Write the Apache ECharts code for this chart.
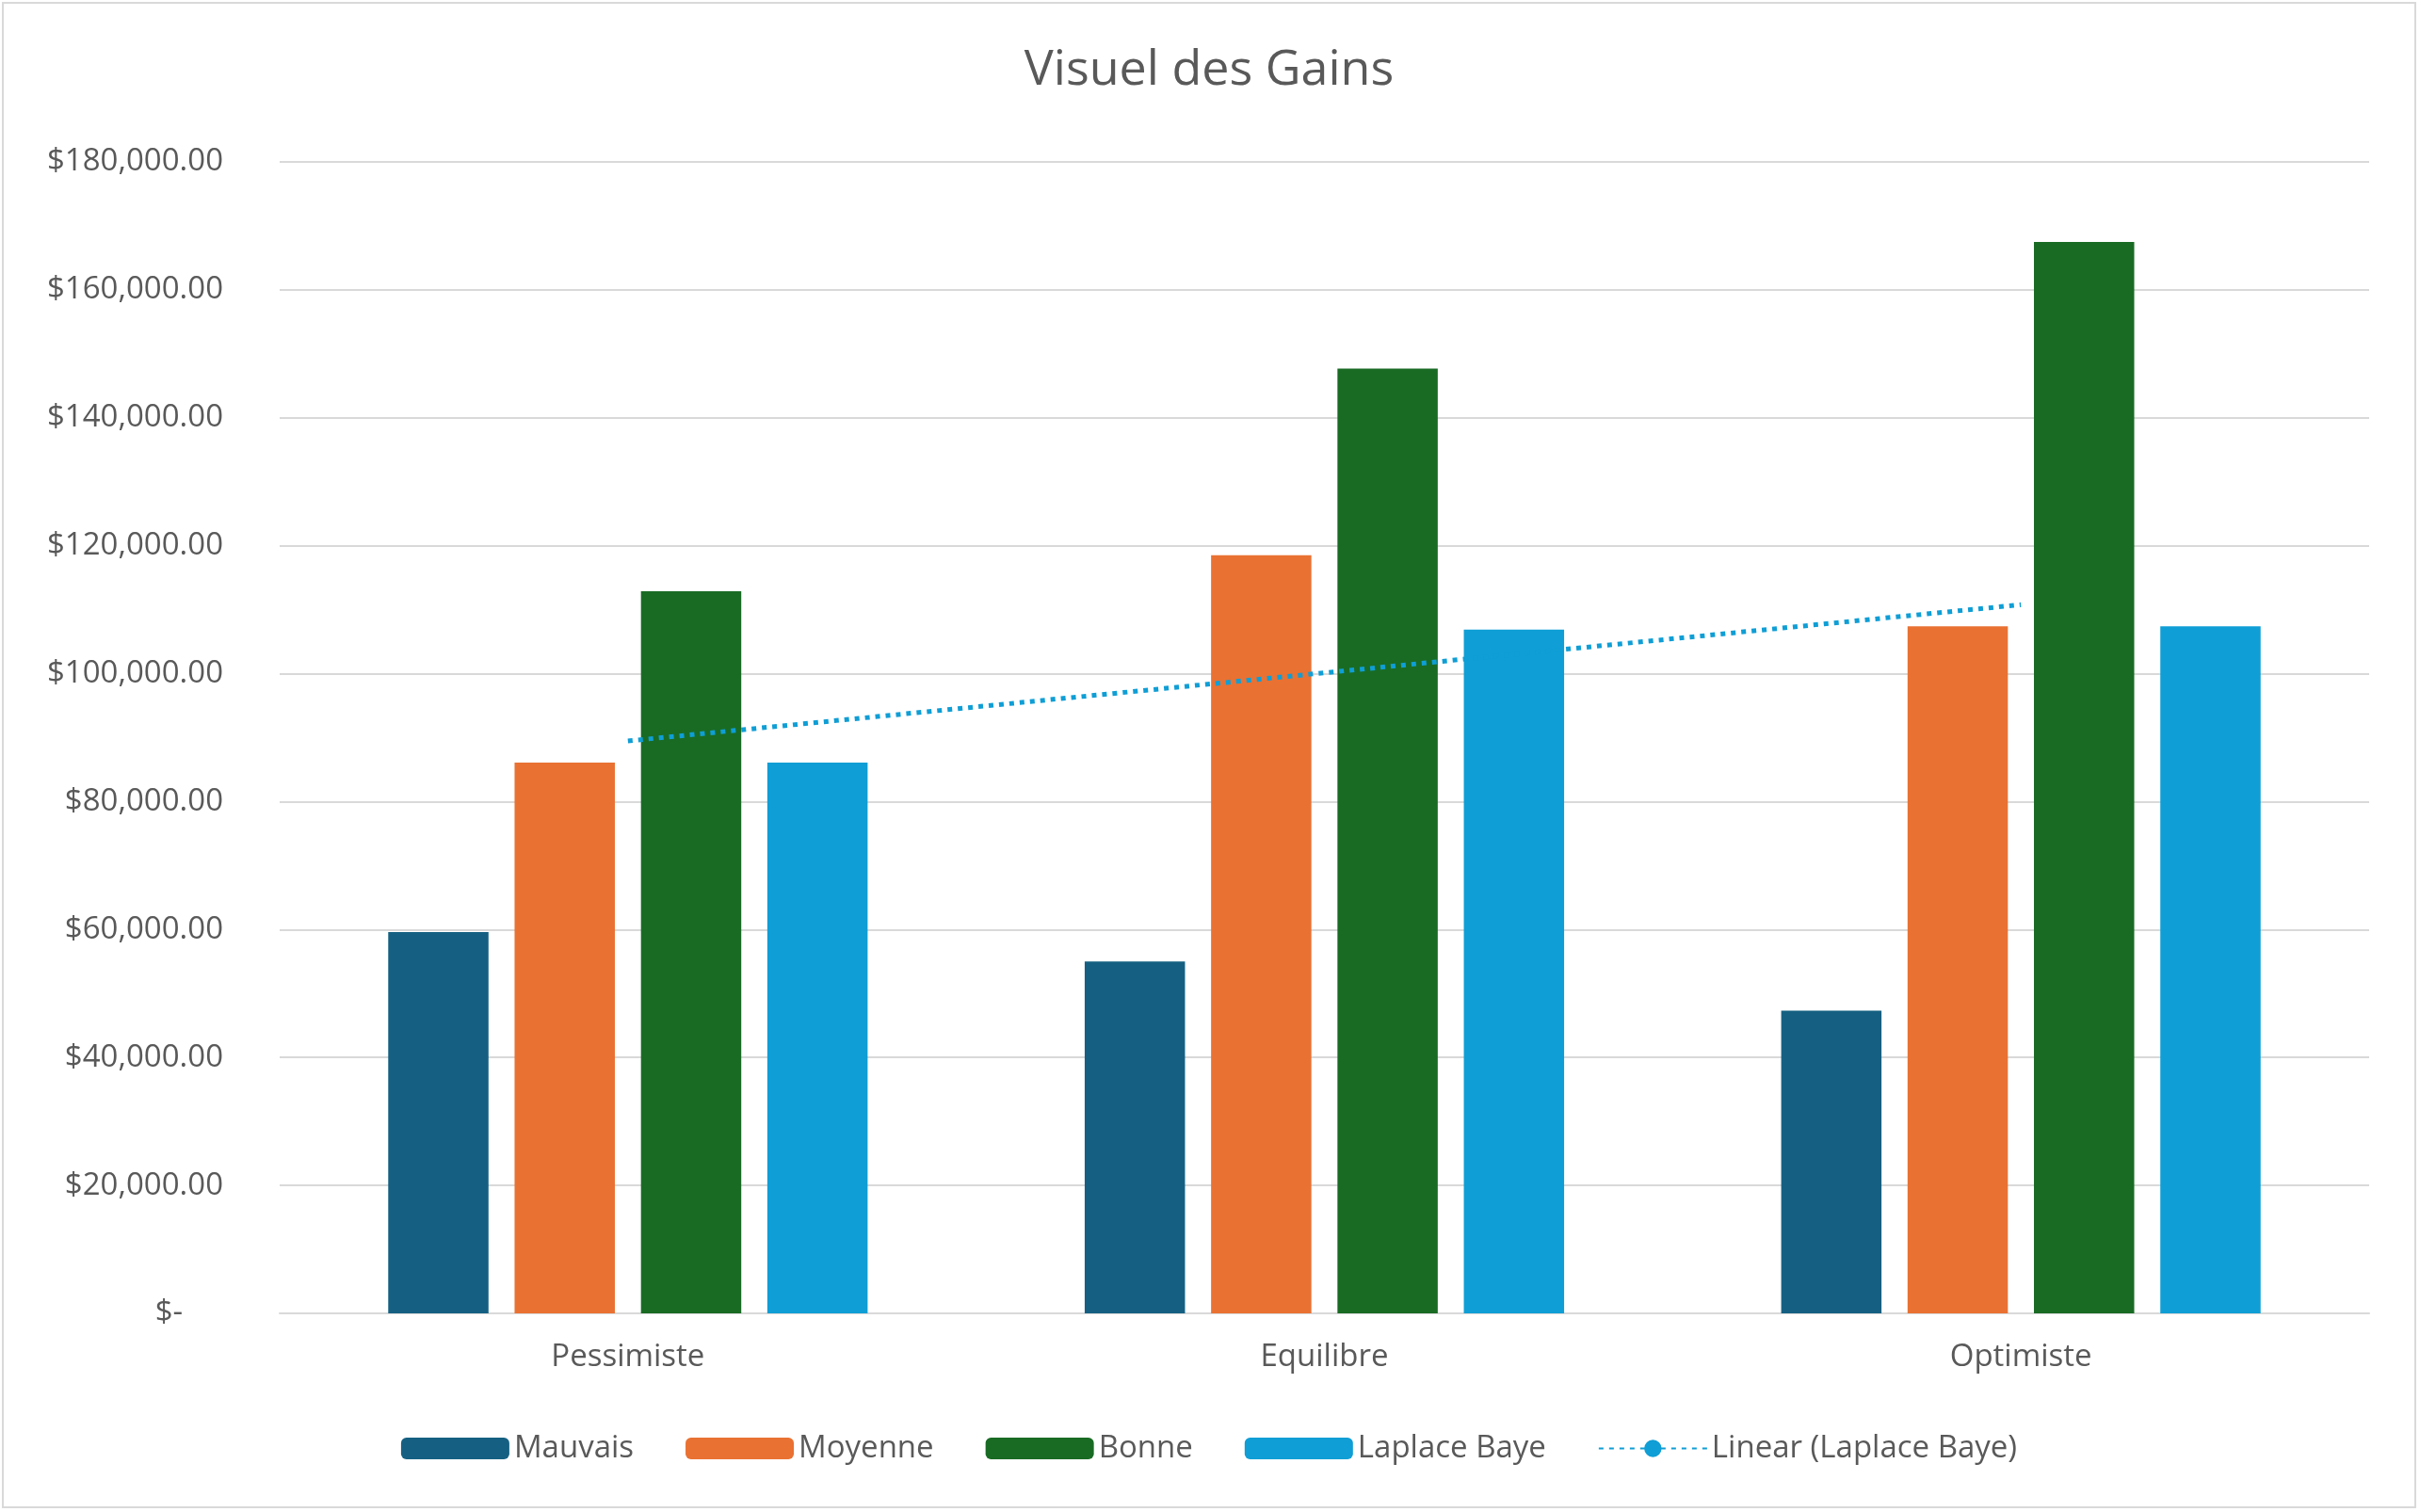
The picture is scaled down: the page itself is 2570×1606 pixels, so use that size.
<!DOCTYPE html>
<html><head><meta charset="utf-8">
<script src="https://cdn.jsdelivr.net/npm/echarts@6/dist/echarts.min.js"></script>
<style>html,body{margin:0;padding:0;background:#fff}#c{position:absolute;left:2px;top:2px;width:2564px;height:1600px;border:2px solid #d9d9d9;box-sizing:border-box}</style>
</head><body><div id="c"></div>
<script>
const categories = ['Pessimiste','Equilibre','Optimiste'];
const mauvais = [59600, 55000, 47300];
const moyenne = [86100, 118500, 107400];
const bonne = [112900, 147700, 167500];
const laplace = [86100, 106900, 107400];
const yTicks = [0,20000,40000,60000,80000,100000,120000,140000,160000,180000];

// linear trendline of Laplace Baye
const n = laplace.length, xs = laplace.map((_,i)=>i);
const mx = xs.reduce((a,b)=>a+b)/n, my = laplace.reduce((a,b)=>a+b)/n;
let sxy=0,sxx=0; xs.forEach((x,i)=>{sxy+=(x-mx)*(laplace[i]-my); sxx+=(x-mx)**2;});
const slope=sxy/sxx, icpt=my-slope*mx;
const trend = xs.map(x=>icpt+slope*x);

const txt = '#595959', F = 'Open Sans';
const chart = echarts.init(document.getElementById('c'));
const barS = (name,data,color)=>({name,type:'bar',data,itemStyle:{color},barWidth:'14.4%',barGap:'26%'});
chart.setOption({
  animation:false,
  textStyle:{fontFamily:F},
  title:{text:'Visuel des Gains',left:'center',top:40,textStyle:{fontFamily:F,fontSize:52,fontWeight:'normal',color:txt}},
  grid:{left:293,right:48,top:168,bottom:205},
  legend:{bottom:40,left:'center',itemWidth:115,itemHeight:23,itemGap:55,
    textStyle:{fontFamily:F,fontSize:33,color:txt},
    data:['Mauvais','Moyenne','Bonne','Laplace Baye','Linear (Laplace Baye)']},
  xAxis:{type:'category',data:categories,axisTick:{show:false},
    axisLine:{lineStyle:{color:'#d9d9d9',width:2}},
    axisLabel:{fontFamily:F,fontSize:33,color:txt,margin:30}},
  yAxis:{type:'value',min:0,max:180000,interval:20000,
    splitLine:{lineStyle:{color:'#d9d9d9',width:2}},
    axisLabel:{fontFamily:F,fontSize:33,color:txt,margin:60,
      formatter:v=>v===0?'$-     ':'$'+v.toLocaleString('en-US',{minimumFractionDigits:2})}},
  series:[
    barS('Mauvais',mauvais,'#156082'),
    barS('Moyenne',moyenne,'#E97132'),
    barS('Bonne',bonne,'#196B24'),
    barS('Laplace Baye',laplace,'#0F9ED5'),
    {name:'Linear (Laplace Baye)',type:'line',data:trend,symbol:'none',z:5,
      itemStyle:{color:'#0F9ED5'},
      lineStyle:{color:'#0F9ED5',width:5,type:[5,6]}}
  ]
});
</script></body></html>
